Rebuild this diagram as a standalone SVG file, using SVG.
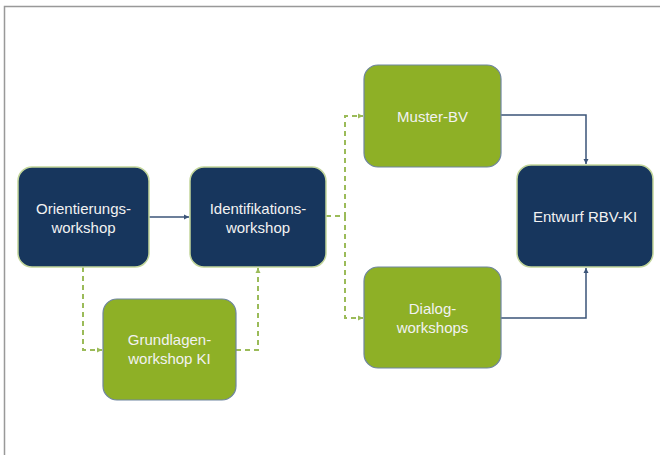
<svg xmlns="http://www.w3.org/2000/svg" width="660" height="455" viewBox="0 0 660 455">
<style>
.dark{fill:#17365d;stroke:#c3d69b;stroke-width:1.5}
.green{fill:#8eb026;stroke:#6f85a0;stroke-width:1.2}
.t{font-family:"Liberation Sans",Arial,sans-serif;font-size:15px;fill:#f2f2f2;text-anchor:middle}
.solid{fill:none;stroke:#3b5478;stroke-width:1.5}
.dash{fill:none;stroke:#9bbb59;stroke-width:2;stroke-dasharray:5 4}
</style>
<defs>
<marker id="ad" markerWidth="6" markerHeight="6" refX="5" refY="3" orient="auto" markerUnits="userSpaceOnUse"><path d="M0,0.5 L5,3 L0,5.5 Z" fill="#3b5478"/></marker>
<marker id="ag" markerWidth="6" markerHeight="6" refX="5" refY="3" orient="auto" markerUnits="userSpaceOnUse"><path d="M0,0.5 L5,3 L0,5.5 Z" fill="#9bbb59"/></marker>
</defs>
<rect x="0" y="0" width="660" height="455" fill="#fff"/>
<path d="M4.5,455 V6.5 H660" fill="none" stroke="#999" stroke-width="1.5"/>
<g id="connectors">
<path class="solid" d="M149,217 H189" marker-end="url(#ad)"/>
<path class="dash" d="M83,267 V350 H102" marker-end="url(#ag)"/>
<path class="dash" d="M236,350 H258 V268" marker-end="url(#ag)"/>
<path class="dash" d="M326,216 H345 V116 H363" marker-end="url(#ag)"/>
<path class="dash" d="M345,216 V318 H363" marker-end="url(#ag)"/>
<path class="solid" d="M501,115 H586 V164" marker-end="url(#ad)"/>
<path class="solid" d="M501,318 H586 V268" marker-end="url(#ad)"/>
</g>
<g id="orientierungsworkshop">
<rect class="dark" x="18" y="167" width="131" height="100" rx="14"/>
<text class="t" x="83.5" y="214">Orientierungs-</text>
<text class="t" x="83.5" y="233">workshop</text>
</g>
<g id="identifikationsworkshop">
<rect class="dark" x="190" y="167" width="136" height="100" rx="14"/>
<text class="t" x="258" y="214">Identifikations-</text>
<text class="t" x="258" y="233">workshop</text>
</g>
<g id="grundlagenworkshop">
<rect class="green" x="103" y="299" width="133" height="101" rx="14"/>
<text class="t" x="169.5" y="345">Grundlagen-</text>
<text class="t" x="169.5" y="364">workshop KI</text>
</g>
<g id="muster-bv">
<rect class="green" x="364" y="65" width="137" height="102" rx="14"/>
<text class="t" x="432.5" y="122">Muster-BV</text>
</g>
<g id="dialogworkshops">
<rect class="green" x="364" y="267" width="137" height="101" rx="14"/>
<text class="t" x="432.5" y="314">Dialog-</text>
<text class="t" x="432.5" y="333">workshops</text>
</g>
<g id="entwurf">
<rect class="dark" x="517" y="165" width="136" height="102" rx="14"/>
<text class="t" x="585" y="222">Entwurf RBV-KI</text>
</g>
</svg>
